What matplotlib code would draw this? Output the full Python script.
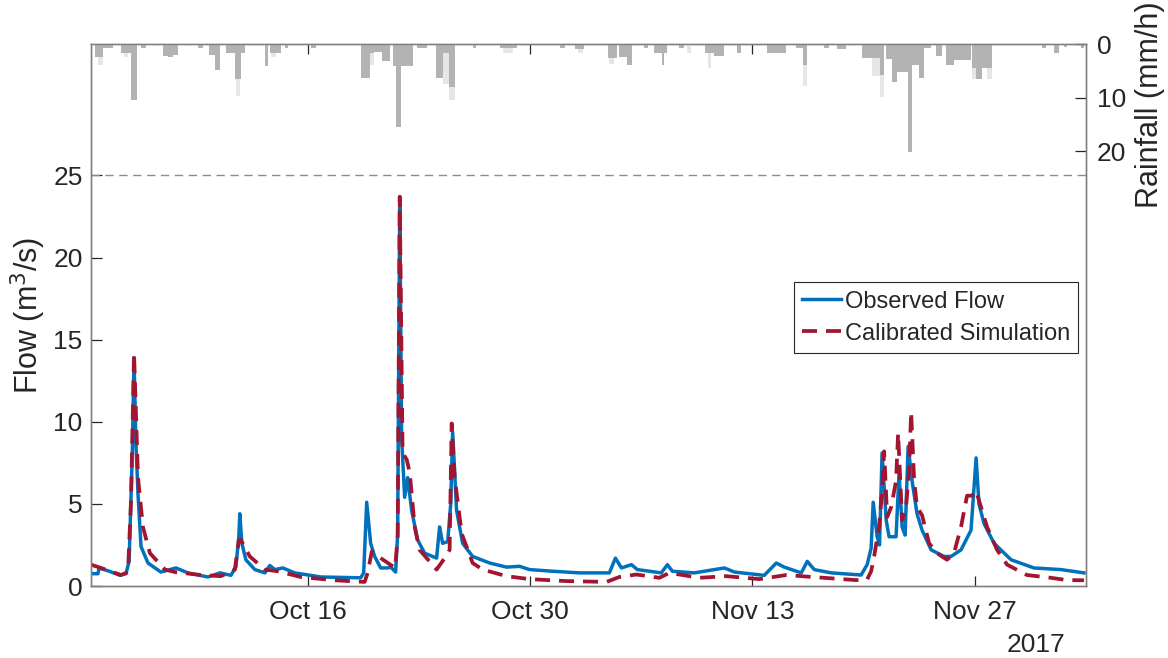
import numpy as np
import pandas as pd
import matplotlib
matplotlib.use("Agg")
import matplotlib.pyplot as plt
import matplotlib.dates as mdates

plt.rcParams['font.family'] = ['Liberation Sans', 'DejaVu Sans']

# time axis: days since 2017-10-01 00:00
start = pd.Timestamp('2017-10-01')

obs_day = [1.35, 1.79, 1.86, 2.5, 3.18, 3.55, 3.75, 3.95, 4.06, 4.18, 4.31, 4.50, 4.94, 5.75,
           6.70, 7.45, 8.71, 9.47, 10.16, 10.47, 10.66, 10.72, 10.85, 11.10, 11.67, 12.30,
           12.61, 12.92, 13.43, 14.18, 15.82, 18.33, 18.52, 18.71, 18.96, 19.21, 19.59, 20.03,
           20.22, 20.53, 20.66, 20.79, 20.91, 21.10, 21.29, 21.54, 21.92, 22.36, 23.11, 23.30,
           23.49, 23.81, 24.0, 24.12, 24.37, 24.75, 25.38, 26.45, 27.52, 28.33, 28.96, 30.41,
           32.11, 33.99, 34.37, 34.75, 35.38, 35.75, 37.26, 37.64, 37.96, 39.34, 41.23, 41.86,
           43.74, 44.50, 45.00, 46.07, 46.45, 46.89, 47.96, 49.84, 50.22, 50.47, 50.60, 50.85,
           51.00, 51.16, 51.42, 51.60, 52.04, 52.23, 52.42, 52.61, 52.80, 53.05, 53.36, 53.68,
           54.25, 55.06, 55.50, 56.13, 56.76, 57.08, 57.26, 57.58, 58.21, 59.28, 60.72, 62.42,
           63.87]
obs_flow = [0.75, 0.75, 1.1, 0.9, 0.65, 0.75, 1.5, 8.0, 13.9, 8.7, 5.6, 2.4, 1.4, 0.85,
            1.1, 0.8, 0.55, 0.8, 0.65, 1.15, 3.0, 4.4, 2.6, 1.6, 1.0, 0.8,
            1.25, 1.0, 1.1, 0.8, 0.55, 0.5, 0.8, 5.1, 2.6, 1.8, 1.1, 1.1,
            1.15, 0.85, 3.2, 23.7, 9.0, 5.4, 6.6, 4.6, 2.8, 2.0, 1.7, 3.6,
            2.6, 2.7, 5.0, 9.4, 4.6, 2.6, 1.8, 1.4, 1.15, 1.2, 1.0, 0.9,
            0.8, 0.8, 1.7, 1.1, 1.3, 1.0, 0.8, 1.3, 0.9, 0.8, 1.1, 0.85,
            0.65, 1.4, 1.15, 0.8, 1.5, 1.0, 0.8, 0.67, 1.3, 2.3, 5.1, 3.0,
            2.5, 8.1, 4.0, 3.0, 3.0, 6.9, 3.6, 3.1, 8.5, 6.4, 4.4, 3.4,
            2.2, 1.8, 1.8, 2.2, 3.4, 7.8, 5.0, 3.8, 2.6, 1.6, 1.1, 1.0,
            0.8]

sim_day = [1.35, 1.98, 3.24, 3.68, 3.87, 4.06, 4.31, 4.62, 5.06, 6.01, 6.64, 8.27, 9.53,
           10.41, 10.66, 10.79, 11.35, 12.30, 13.11, 14.56, 16.70, 18.58, 18.77, 19.03, 19.59,
           20.5, 20.66, 20.79, 20.97, 21.23, 21.42, 21.73, 22.04, 23.11, 23.62, 23.93, 24.06,
           24.25, 24.69, 25.38, 26.01, 27.52, 28.96, 31.29, 33.81, 34.62, 35.69, 37.14, 37.77,
           39.65, 41.35, 43.43, 45.13, 46.76, 49.53, 50.22, 50.47, 50.66, 50.97, 51.16, 51.29,
           51.48, 51.73, 52.04, 52.17, 52.42, 52.67, 52.86, 52.99, 53.18, 53.36, 53.68, 54.12,
           54.62, 55.25, 55.69, 56.13, 56.51, 56.82, 57.08, 57.39, 57.77, 58.40, 59.03, 60.28,
           61.79, 62.80, 63.87]
sim_flow = [1.3, 1.1, 0.67, 0.85, 5.2, 14.2, 6.6, 3.6, 2.0, 1.0, 0.85, 0.67, 0.6,
            1.0, 2.8, 2.8, 1.8, 1.0, 0.9, 0.55, 0.35, 0.25, 0.8, 2.1, 1.7,
            1.1, 3.0, 23.7, 8.1, 7.7, 6.9, 3.6, 2.2, 1.0, 1.7, 2.2, 9.9,
            6.6, 3.2, 1.4, 1.0, 0.6, 0.42, 0.3, 0.25, 0.55, 0.7, 0.5, 0.8,
            0.5, 0.6, 0.42, 0.67, 0.55, 0.36, 0.4, 0.9, 1.8, 3.6, 5.8, 8.2,
            4.2, 4.8, 6.4, 9.3, 4.0, 4.8, 7.1, 10.6, 6.4, 4.8, 4.3, 2.6,
            2.0, 1.6, 2.0, 3.6, 5.5, 5.5, 5.8, 4.8, 3.6, 2.2, 1.3, 0.67,
            0.5, 0.36, 0.35]

# rainfall blocks (start day, end day, mm/h)
rain_a_start = [1.58, 2.11, 3.24, 3.86, 4.5, 5.9, 6.2, 6.5, 8.1, 8.8, 9.15, 9.84, 10.4, 10.8,
                12.3, 12.6, 13.55, 15.2, 18.33, 18.9, 19.2, 19.7, 20.35, 20.55, 20.85, 21.9,
                23.05, 23.5, 23.9, 25.4, 27.1, 30.9, 31.85, 33.9, 34.6, 35.1, 36.2, 36.8,
                37.3, 37.45, 38.4, 40.0, 40.6, 42.0, 43.9, 45.75, 46.2, 47.5, 48.3, 49.9,
                50.5, 51.0, 51.4, 51.8, 52.1, 52.8, 53.05, 53.5, 53.8, 54.55, 55.2, 55.7,
                56.8, 57.1, 57.45, 61.2, 62.0, 62.6, 63.7]
rain_a_end = [2.11, 2.74, 3.86, 4.25, 4.8, 6.2, 6.5, 6.8, 8.4, 9.15, 9.47, 10.4, 10.8, 11.05,
              12.5, 13.3, 13.74, 15.5, 18.9, 19.2, 19.7, 20.15, 20.55, 20.85, 21.6, 22.5,
              23.5, 23.9, 24.25, 25.6, 28.2, 31.2, 32.4, 34.5, 35.1, 35.4, 36.4, 37.3,
              37.45, 37.6, 38.7, 40.6, 41.2, 42.3, 45.1, 46.2, 46.45, 47.8, 48.9, 50.5,
              51.0, 51.3, 51.8, 52.1, 52.8, 53.05, 53.5, 53.8, 54.25, 54.95, 55.7, 56.75,
              57.1, 57.45, 58.1, 61.5, 62.3, 62.8, 63.9]
rain_a = [2.5, 0.8, 1.6, 10.5, 0.8, 2.2, 2.5, 2.0, 0.8, 2.0, 4.8, 1.6, 6.5, 1.6,
          4.1, 1.6, 0.8, 0.8, 6.4, 1.6, 1.4, 3.1, 4.1, 15.4, 4.1, 0.8,
          6.4, 1.6, 8.1, 0.8, 0.8, 0.8, 1.0, 2.6, 2.5, 3.9, 0.8, 1.6,
          3.9, 1.6, 0.8, 1.6, 2.3, 1.6, 1.6, 0.8, 3.9, 0.8, 1.0, 2.6,
          2.6, 5.8, 2.8, 7.0, 5.3, 20.2, 3.9, 6.3, 0.8, 2.2, 3.9, 3.0,
          4.5, 6.5, 4.5, 0.8, 1.6, 0.5, 0.8]

rain_b_start = [1.8, 3.4, 10.45, 12.7, 18.9, 23.5, 23.9, 27.3, 32.0, 33.95, 38.9, 40.2,
                46.2, 50.5, 51.0, 56.8, 57.75]
rain_b_end = [2.1, 3.7, 10.75, 13.0, 19.2, 23.9, 24.25, 27.9, 32.3, 34.3, 39.15, 40.4,
              46.45, 51.0, 51.3, 57.1, 58.1]
rain_b = [4.0, 2.5, 9.7, 2.5, 4.0, 7.5, 10.5, 1.6, 1.6, 3.7, 1.6, 4.5,
          7.8, 6.0, 9.9, 6.5, 6.5]

tick_dates = ['2017-10-16', '2017-10-30', '2017-11-13', '2017-11-27']


def to_time(days):
    return start + pd.to_timedelta(np.asarray(days), unit='D')


fig = plt.figure(figsize=(11.68, 6.58), dpi=100)
ax = fig.add_axes([0.0779, 0.1094, 0.8519, 0.8237])
ax2 = ax.twinx()

spine_c = '#808080'
text_c = '#262626'

ax.plot(to_time(obs_day), obs_flow, color='#0072BD', lw=2.5, label='Observed Flow', zorder=3)
ax.plot(to_time(sim_day), sim_flow, color='#A2142F', lw=2.7, dashes=(4.0, 2.4),
        label='Calibrated Simulation', zorder=4)
ax.axhline(25, color='#8c8c8c', lw=1.0, dashes=(6, 4), zorder=2)

wb = np.array(rain_b_end) - np.array(rain_b_start)
ax2.bar(to_time(rain_b_start), rain_b, width=wb, align='edge', color='#e6e6e6', lw=0)
wa = np.array(rain_a_end) - np.array(rain_a_start)
ax2.bar(to_time(rain_a_start), rain_a, width=wa, align='edge', color='#b3b3b3', lw=0)

ax.set_xlim(to_time([1.35])[0], to_time([64.0])[0])
ax.set_ylim(0, 33)
ax.set_yticks([0, 5, 10, 15, 20, 25])
ax2.set_ylim(101, 0)
ax2.set_yticks([0, 10, 20])

ax.set_xticks(pd.to_datetime(tick_dates))
ax.xaxis.set_major_formatter(mdates.DateFormatter('%b %d'))

for a in (ax, ax2):
    for s in a.spines.values():
        s.set_color(spine_c)
        s.set_linewidth(1.0)

ax.tick_params(axis='x', direction='in', length=7, width=0.9, color=text_c, top=True,
               labelsize=19, labelcolor=text_c, pad=10)
ax.tick_params(axis='y', direction='in', length=8, width=0.9, color=text_c,
               labelsize=19, labelcolor=text_c, pad=6)
ax2.tick_params(axis='y', direction='in', length=8, width=0.9, color=text_c,
                labelsize=19, labelcolor=text_c, pad=8)

ax.set_ylabel('Flow (m$^3$/s)', fontsize=22, color=text_c)
ax.yaxis.set_label_coords(-0.043, 0.5)
ax2.set_ylabel('Rainfall (mm/h)', fontsize=22, color=text_c)
ax2.yaxis.set_label_coords(1.049, 0.888)

ax.text(0.95, -0.109, '2017', transform=ax.transAxes, fontsize=19, color=text_c,
        ha='center', va='center')

leg = ax.legend(loc='upper right', bbox_to_anchor=(0.992, 0.560), fontsize=17,
                frameon=True, fancybox=False, edgecolor='#262626', framealpha=1,
                handlelength=1.65, handletextpad=0.15, borderpad=0.35, labelspacing=0.42,
                borderaxespad=0)
leg.get_frame().set_linewidth(0.8)
for t in leg.get_texts():
    t.set_color(text_c)

fig.savefig('out.png', dpi=100)
